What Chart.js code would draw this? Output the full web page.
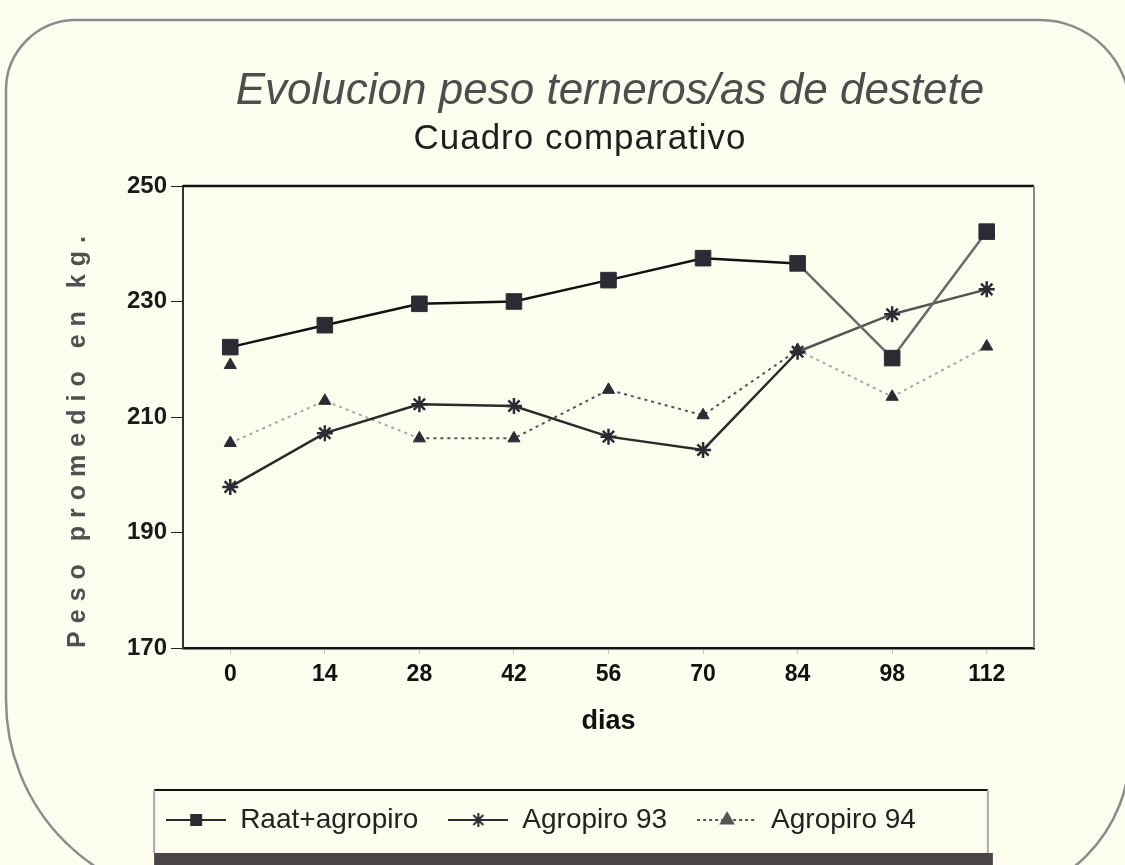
<!DOCTYPE html>
<html>
<head>
<meta charset="utf-8">
<script src="https://cdn.jsdelivr.net/npm/chart.js@4.4.0/dist/chart.umd.min.js"></script>
<style>
  html, body { margin: 0; padding: 0; background: #fcfcef; }
</style>
</head>
<body>
<canvas id="chart" width="1125" height="865"></canvas>
<script>
// Data
const dias = ['0', '14', '28', '42', '56', '70', '84', '98', '112'];
const raatAgropiro = [222.1, 225.9, 229.6, 230.0, 233.7, 237.5, 236.6, 220.2, 242.1];
const agropiro93 = [197.9, 207.2, 212.2, 211.9, 206.6, 204.3, 221.3, 227.8, 232.1];
const agropiro94 = [205.5, 212.8, 206.3, 206.3, 214.7, 210.3, 221.6, 213.5, 222.2];
// lone triangle that sits above the series at day 0
const agropiro94Suelto = [219.0, null, null, null, null, null, null, null, null];
const yTicks = [170, 190, 210, 230, 250];

const titulo = 'Evolucion peso terneros/as de destete';
const subtitulo = 'Cuadro comparativo';
const tituloY = 'Peso promedio en kg.';

const INK = '#2e2a33';
const FONT = "'Liberation Sans', Arial, sans-serif";

// small canvas with line + marker, used as legend symbol
function legendIcon(style, color, dash) {
    const c = document.createElement('canvas');
    c.width = 60;
    c.height = 22;
    const ctx = c.getContext('2d');
    ctx.strokeStyle = color;
    ctx.fillStyle = color;
    ctx.lineWidth = 2;
    ctx.setLineDash(dash || []);
    ctx.beginPath();
    ctx.moveTo(0, 11);
    ctx.lineTo(60, 11);
    ctx.stroke();
    ctx.setLineDash([]);
    Chart.helpers.drawPoint(ctx, { pointStyle: style, radius: 7, borderWidth: 2 }, 30, 11);
    if (style !== 'star') ctx.fill();
    return c;
}

const decor = {
    id: 'decor',
    beforeDraw(chart) {
        const ctx = chart.ctx;
        ctx.save();
        ctx.fillStyle = '#fcfcef';
        ctx.fillRect(0, 0, chart.width, chart.height);

        // rounded slide frame
        ctx.strokeStyle = '#8c8c8c';
        ctx.lineWidth = 2.5;
        ctx.beginPath();
        ctx.roundRect(6, 20, 1124, 880, [70, 90, 150, 200]);
        ctx.stroke();

        ctx.fillStyle = '#4d4d4d';
        ctx.textAlign = 'center';
        ctx.textBaseline = 'alphabetic';
        ctx.font = "italic 44px 'Liberation Sans Narrow', 'Liberation Sans', Arial, sans-serif";
        ctx.fillText(titulo, 610, 104);
        ctx.fillStyle = '#1e1e1e';
        ctx.letterSpacing = '1px';
        ctx.font = "35px 'Liberation Sans', Arial, sans-serif";
        ctx.fillText(subtitulo, 580, 149);
        ctx.restore();
    },
    afterDraw(chart) {
        const ctx = chart.ctx;
        const area = chart.chartArea;
        ctx.save();

        // plot frame: top and right edges
        ctx.strokeStyle = '#111';
        ctx.lineWidth = 2.5;
        ctx.beginPath();
        ctx.moveTo(area.left, area.top);
        ctx.lineTo(area.right, area.top);
        ctx.stroke();
        ctx.strokeStyle = '#888';
        ctx.lineWidth = 2;
        ctx.beginPath();
        ctx.moveTo(area.right, area.top);
        ctx.lineTo(area.right, area.bottom);
        ctx.stroke();

        // y title, letter spaced like the original
        ctx.translate(78, 438);
        ctx.rotate(-Math.PI / 2);
        ctx.letterSpacing = '8px';
        ctx.font = 'bold 25px ' + FONT;
        ctx.fillStyle = '#505050';
        ctx.textAlign = 'center';
        ctx.textBaseline = 'middle';
        ctx.fillText(tituloY, 0, 0);
        ctx.restore();

        // legend box with the dark bar below
        const boxes = chart.legend.legendHitBoxes;
        if (boxes && boxes.length) {
            const first = boxes[0];
            const last = boxes[boxes.length - 1];
            const left = first.left - 12;
            const right = last.left + last.width + 72;
            const top = first.top + first.height / 2 - 30;
            ctx.save();
            ctx.strokeStyle = '#111';
            ctx.lineWidth = 2;
            ctx.beginPath();
            ctx.moveTo(left, top);
            ctx.lineTo(right, top);
            ctx.stroke();
            ctx.strokeStyle = '#aaa';
            ctx.beginPath();
            ctx.moveTo(left, top);
            ctx.lineTo(left, 853);
            ctx.moveTo(right, top);
            ctx.lineTo(right, 853);
            ctx.stroke();
            ctx.fillStyle = '#4b4449';
            ctx.fillRect(left, 853, right - left + 5, 12);
            ctx.restore();
        }
    }
};

new Chart(document.getElementById('chart'), {
    type: 'line',
    data: {
        labels: dias,
        datasets: [
            {
                label: 'Raat+agropiro',
                data: raatAgropiro,
                borderColor: '#111',
                backgroundColor: INK,
                borderWidth: 2.5,
                pointStyle: 'rect',
                pointRadius: 11,
                pointBorderWidth: 1,
                pointBorderColor: INK,
                segment: {
                    borderColor: (ctx) => ctx.p0DataIndex >= 6 ? '#6a6a6a' : undefined
                }
            },
            {
                label: 'Agropiro 93',
                data: agropiro93,
                borderColor: '#2a2a2a',
                backgroundColor: INK,
                borderWidth: 2.5,
                pointStyle: 'star',
                pointRadius: 8,
                pointBorderWidth: 2.5,
                pointBorderColor: INK,
                segment: {
                    borderColor: (ctx) => ctx.p0DataIndex >= 6 ? '#555' : undefined
                }
            },
            {
                label: 'Agropiro 94',
                data: agropiro94,
                borderColor: '#555',
                backgroundColor: INK,
                borderWidth: 2,
                borderDash: [3, 4],
                pointStyle: 'triangle',
                pointRadius: 7,
                pointBorderWidth: 1,
                pointBorderColor: INK,
                segment: {
                    borderColor: (ctx) => (ctx.p0DataIndex <= 1 || ctx.p0DataIndex >= 6) ? '#a8a8a8' : undefined
                }
            },
            {
                label: 'suelto',
                data: agropiro94Suelto,
                showLine: false,
                backgroundColor: INK,
                pointStyle: 'triangle',
                pointRadius: 7,
                pointBorderWidth: 1,
                pointBorderColor: INK
            }
        ]
    },
    options: {
        responsive: false,
        animation: false,
        devicePixelRatio: 1,
        layout: {
            padding: { top: 186, left: 48, right: 91, bottom: 21 }
        },
        plugins: {
            title: { display: false },
            tooltip: { enabled: false },
            legend: {
                position: 'bottom',
                labels: {
                    usePointStyle: true,
                    pointStyleWidth: 60,
                    padding: 30,
                    color: '#222',
                    font: { family: FONT, size: 28 },
                    filter: (item) => item.datasetIndex < 3,
                    generateLabels: (chart) => chart.data.datasets.map((ds, i) => ({
                        text: ds.label,
                        datasetIndex: i,
                        fontColor: '#222',
                        pointStyle: legendIcon(ds.pointStyle, i === 2 ? '#555' : INK, i === 2 ? [3, 3] : null),
                        hidden: false,
                        lineWidth: 0
                    }))
                }
            }
        },
        scales: {
            x: {
                offset: true,
                border: { color: '#111', width: 2.5 },
                grid: { drawOnChartArea: false, tickLength: 6, tickColor: '#c8c8c0' },
                ticks: {
                    color: '#111',
                    padding: 7,
                    font: { family: FONT, size: 23, weight: 'bold' }
                },
                title: {
                    display: true,
                    text: 'dias',
                    color: '#111',
                    font: { family: FONT, size: 27, weight: 'bold' },
                    padding: { top: 10, bottom: 38 }
                }
            },
            y: {
                min: 170,
                max: 250,
                border: { color: '#333', width: 2 },
                grid: { drawOnChartArea: false, tickLength: 12, tickColor: '#222' },
                afterBuildTicks: (scale) => {
                    scale.ticks = yTicks.map((v) => ({ value: v }));
                },
                afterFit: (scale) => {
                    scale.width = 135;
                },
                ticks: {
                    color: '#1a1a1a',
                    padding: 4,
                    font: { family: FONT, size: 24, weight: 'bold' }
                }
            }
        }
    },
    plugins: [decor]
});
</script>
</body>
</html>
